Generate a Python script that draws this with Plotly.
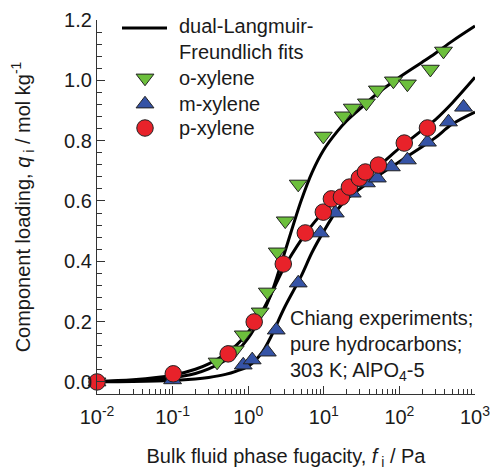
import plotly.graph_objects as go

# ---- data ----
o_f = [0.01, 0.388, 0.673, 0.86, 1.44, 1.79, 2.42, 3.09, 4.59, 9.85, 18.1, 23.8, 36.6, 51.1, 83.3, 127.6, 257, 383]
o_q = [0.0, 0.066, 0.106, 0.156, 0.232, 0.298, 0.431, 0.534, 0.656, 0.815, 0.882, 0.908, 0.925, 0.968, 0.998, 0.988, 1.037, 1.097]

m_f = [0.01, 0.1, 0.86, 1.13, 1.79, 2.35, 4.59, 8.99, 14.2, 23.8, 36.6, 51.1, 78.3, 127.6, 235, 446, 705]
m_q = [0.0, 0.007, 0.056, 0.073, 0.099, 0.172, 0.328, 0.494, 0.56, 0.626, 0.66, 0.676, 0.713, 0.736, 0.795, 0.862, 0.911]

p_f = [0.01, 0.102, 0.543, 1.2, 2.91, 5.69, 9.85, 12.6, 17.1, 21.8, 29.5, 35.5, 52.7, 116, 235]
p_q = [0.0, 0.027, 0.093, 0.199, 0.391, 0.494, 0.563, 0.607, 0.613, 0.646, 0.676, 0.696, 0.719, 0.792, 0.842]

fit_f = [0.01, 0.03, 0.1, 0.2, 0.3, 0.5, 0.7, 1, 1.5, 2, 3, 5, 7, 10, 15, 20, 30, 50, 100, 200, 300, 500, 1000]
o_fit = [0.001, 0.004, 0.014, 0.028, 0.043, 0.072, 0.10, 0.145, 0.22, 0.29, 0.425, 0.60, 0.695, 0.77, 0.83, 0.865, 0.905, 0.955, 1.01, 1.06, 1.09, 1.13, 1.18]
p_fit = [0.002, 0.007, 0.022, 0.042, 0.06, 0.092, 0.122, 0.165, 0.23, 0.29, 0.38, 0.47, 0.52, 0.565, 0.605, 0.635, 0.67, 0.71, 0.775, 0.835, 0.87, 0.925, 1.01]
m_fit = [0.0005, 0.0015, 0.005, 0.01, 0.015, 0.025, 0.036, 0.052, 0.095, 0.15, 0.245, 0.35, 0.43, 0.5, 0.57, 0.605, 0.64, 0.68, 0.73, 0.78, 0.81, 0.855, 0.895]

x_tickvals = [0.01, 0.1, 1, 10, 100, 1000]
x_ticktext = ["10<sup>-2</sup>", "10<sup>-1</sup>", "10<sup>0</sup>", "10<sup>1</sup>",
              "10<sup>2</sup>", "10<sup>3</sup>"]

legend_labels = ["dual-Langmuir-<br>Freundlich fits", "o-xylene", "m-xylene", "p-xylene"]

GREEN = "#6cbf3c"
BLUE = "#3553a6"
RED = "#e8222a"
FONT = "Liberation Sans, Arial, sans-serif"
TXT = "#1a1a1a"
EDGE = "#222"
FS = 20

W, H = 490, 470
ML, MR, MT, MB = 97, 15, 20, 76

fig = go.Figure()

for qf in (o_fit, p_fit, m_fit):
    fig.add_trace(go.Scatter(
        x=fit_f, y=qf, mode="lines", line=dict(color="black", width=3, shape="spline"),
        showlegend=False, cliponaxis=False, hoverinfo="skip"))

series = [
    (o_f, o_q, "triangle-down", 15.5, GREEN, legend_labels[1]),
    (m_f, m_q, "triangle-up", 15.5, BLUE, legend_labels[2]),
    (p_f, p_q, "circle", 16.5, RED, legend_labels[3]),
]
for xs, ys, sym, sz, col, nm in series:
    fig.add_trace(go.Scatter(
        x=xs, y=ys, mode="markers", name=nm, showlegend=False,
        marker=dict(symbol=sym, size=sz, color=col, line=dict(color=EDGE, width=1)),
        cliponaxis=False))

# ---- hand-drawn legend (in pixel-like helper axes spanning the plot area) ----
sym_x = 145
leg_rows_y = [78, 104, 128]
for (xs, ys, sym, sz, col, nm), ry in zip(series, leg_rows_y):
    fig.add_trace(go.Scatter(
        x=[sym_x], y=[ry], xaxis="x2", yaxis="y2", mode="markers", showlegend=False,
        marker=dict(symbol=sym, size=sz, color=col, line=dict(color=EDGE, width=1)),
        hoverinfo="skip", cliponaxis=False))
    fig.add_annotation(xref="x2", yref="y2", x=177, y=ry, xanchor="left", yanchor="middle",
                       text=nm, showarrow=False, font=dict(size=FS, family=FONT, color=TXT))
fig.add_shape(type="line", xref="x2", yref="y2", x0=122, x1=167, y0=28, y1=28,
              line=dict(color="black", width=3))
fig.add_annotation(xref="x2", yref="y2", x=177, y=39, xanchor="left", yanchor="middle",
                   text=legend_labels[0], showarrow=False, align="left",
                   font=dict(size=FS, family=FONT, color=TXT))

minor_x = [m * 10 ** e for e in range(-2, 3) for m in range(2, 10)]

fig.update_layout(
    width=W, height=H,
    margin=dict(l=ML, r=MR, t=MT, b=MB),
    paper_bgcolor="white", plot_bgcolor="white",
    font=dict(family=FONT, size=FS, color=TXT),
    showlegend=False,
    xaxis=dict(
        type="log", range=[-2, 3], automargin=False,
        tickmode="array", tickvals=x_tickvals, ticktext=x_ticktext,
        ticks="inside", ticklen=8, tickwidth=1, tickcolor="#333",
        ticklabelstandoff=5, ticklabeloverflow="allow",
        showline=True, linecolor="#333", linewidth=1.2,
        showgrid=False, zeroline=False,
        minor=dict(tickmode="array", tickvals=minor_x, ticks="inside", ticklen=5,
                   tickcolor="#333", showgrid=False),
        tickfont=dict(size=FS),
        title=dict(text="Bulk fluid phase fugacity, <i>f</i><sub> i</sub> / Pa",
                   font=dict(size=FS), standoff=29),
    ),
    yaxis=dict(
        range=[-0.04, 1.2], tick0=0, dtick=0.2, tickformat=".1f", automargin=False,
        ticks="inside", ticklen=8, tickwidth=1, tickcolor="#333",
        ticklabeloverflow="allow",
        showline=True, linecolor="#333", linewidth=1.2,
        showgrid=False, zeroline=False,
        minor=dict(tick0=0, dtick=0.04, ticks="inside", ticklen=5,
                   tickcolor="#333", showgrid=False),
        tickfont=dict(size=FS),
        title=dict(text="Component loading, <i>q</i><sub> i</sub> / mol kg<sup>-1</sup>",
                   font=dict(size=FS), standoff=28),
    ),
    xaxis2=dict(range=[ML, W - MR], domain=[0, 1], anchor="y2", overlaying="x",
                visible=False, fixedrange=True),
    yaxis2=dict(range=[H - MB, MT], domain=[0, 1], anchor="x2", overlaying="y",
                visible=False, fixedrange=True),
)

fig.add_annotation(
    xref="paper", yref="paper", x=0.505, y=0.238, xanchor="left", yanchor="top",
    align="left", showarrow=False,
    text="Chiang experiments;<br>pure hydrocarbons;<br>303 K; AlPO<sub>4</sub>-5",
    font=dict(size=FS, family=FONT, color=TXT))

fig.write_html("out.html")
